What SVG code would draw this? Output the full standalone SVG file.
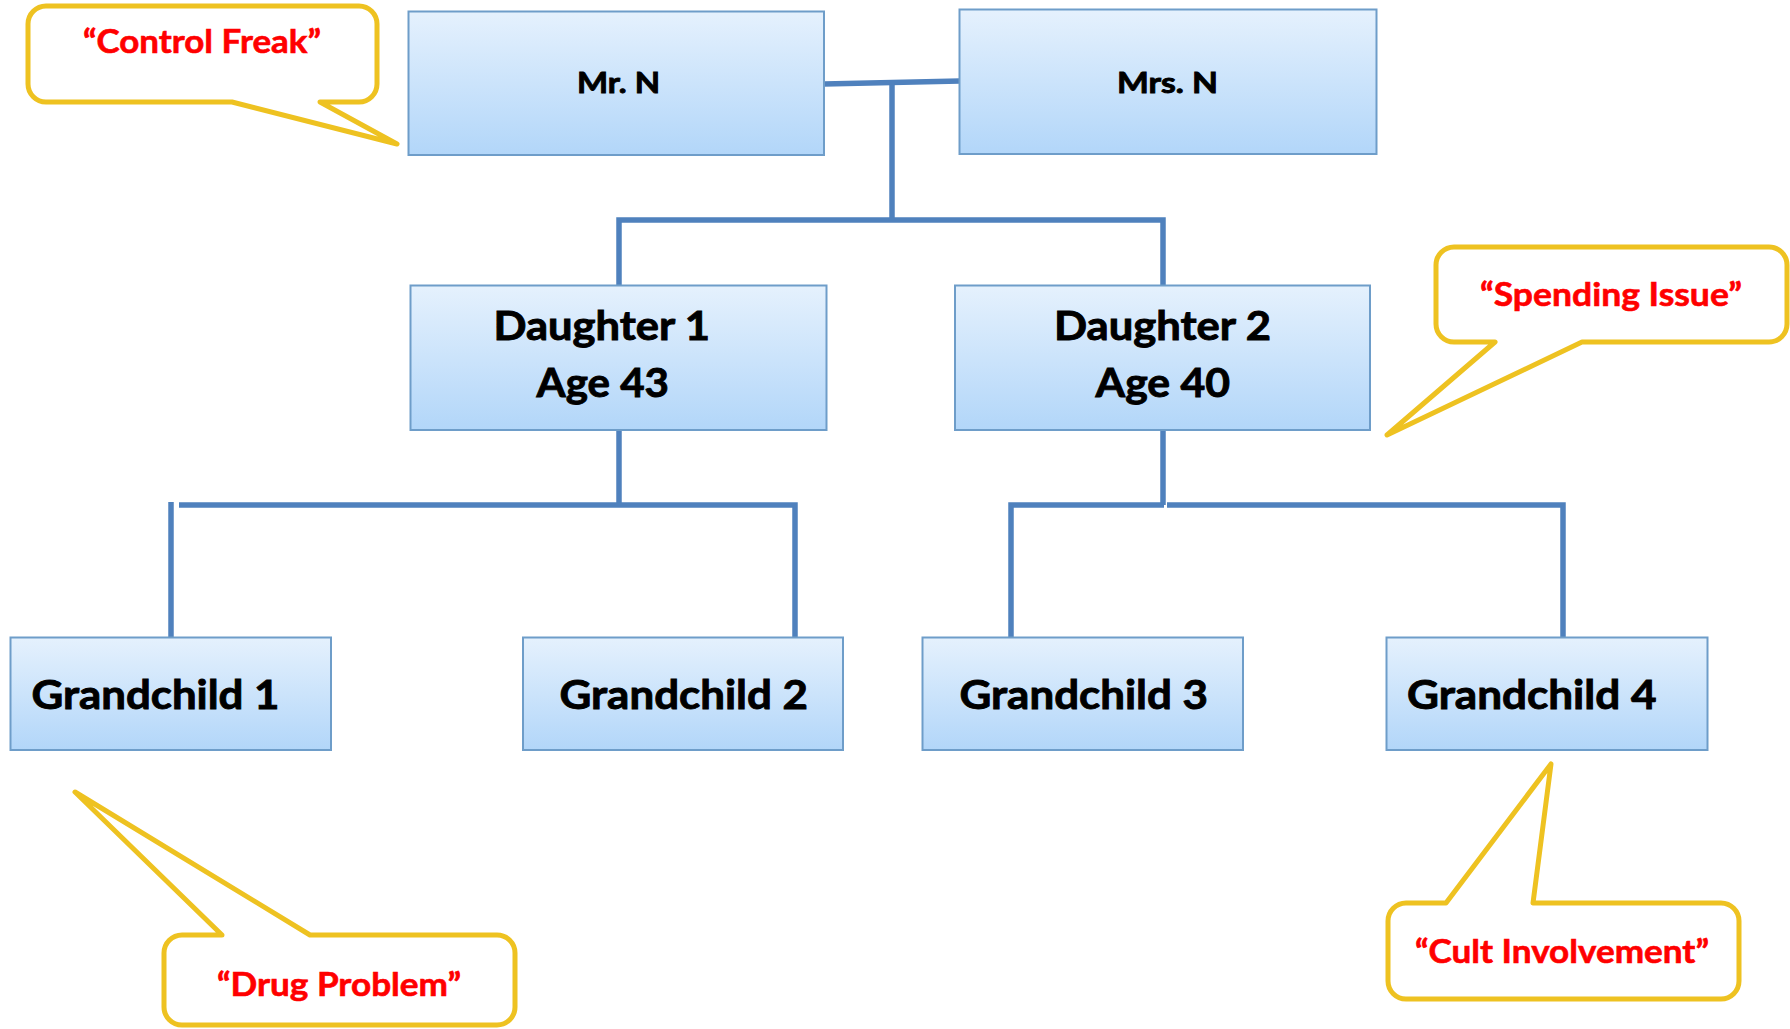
<svg xmlns="http://www.w3.org/2000/svg" width="1790" height="1029" viewBox="0 0 1790 1029">
  <defs>
    <linearGradient id="boxFill" x1="0" y1="0" x2="0" y2="1">
      <stop offset="0" stop-color="#E5F1FD"/>
      <stop offset="1" stop-color="#B2D6F9"/>
    </linearGradient>
    <style>
      .box { fill: url(#boxFill); stroke: #6E9DC9; stroke-width: 2; }
      .lbl { font-family: Lato, "Liberation Sans", sans-serif; font-weight: bold; fill: #000; stroke: #000; stroke-width: 0.9; }
      .s { font-size: 29px; }
      .m { font-size: 40px; }
      .conn { fill: none; stroke: #4F81BD; stroke-width: 5.5; stroke-linejoin: miter; stroke-linecap: butt; }
      .bubble { fill: #FFFFFF; stroke: #EEC221; stroke-width: 5; stroke-linejoin: round; }
      .note { font-family: Lato, "Liberation Sans", sans-serif; font-weight: bold; font-size: 32px; fill: #FF0000; stroke: #FF0000; stroke-width: 0.6; }
    </style>
  </defs>
  <rect width="1790" height="1029" fill="#FFFFFF"/>

  <!-- family tree connectors -->
  <g id="connectors">
    <line class="conn" x1="824" y1="84" x2="960" y2="81"/>
    <line class="conn" x1="892" y1="83" x2="892" y2="220"/>
    <polyline class="conn" points="619,286 619,220 1163,220 1163,286"/>
    <line class="conn" x1="619" y1="430" x2="619" y2="505"/>
    <line class="conn" x1="171" y1="502" x2="171" y2="638"/>
    <polyline class="conn" points="179,505 795,505 795,638"/>
    <line class="conn" x1="1163" y1="430" x2="1163" y2="505"/>
    <polyline class="conn" points="1011,638 1011,505 1164,505"/>
    <polyline class="conn" points="1167,505 1563,505 1563,638"/>
  </g>

  <!-- people -->
  <g id="mr-n">
    <rect class="box" x="408.5" y="11.5" width="415.5" height="143.5"/>
    <text class="lbl s" x="577" y="93" textLength="83" lengthAdjust="spacingAndGlyphs">Mr. N</text>
  </g>
  <g id="mrs-n">
    <rect class="box" x="959.5" y="9.5" width="417" height="144.5"/>
    <text class="lbl s" x="1117" y="93" textLength="101" lengthAdjust="spacingAndGlyphs">Mrs. N</text>
  </g>
  <g id="daughter-1">
    <rect class="box" x="410.5" y="285.5" width="416" height="144.5"/>
    <text class="lbl m" x="493.5" y="340" textLength="216.5" lengthAdjust="spacingAndGlyphs">Daughter 1</text>
    <text class="lbl m" x="536.5" y="397" textLength="132.5" lengthAdjust="spacingAndGlyphs">Age 43</text>
  </g>
  <g id="daughter-2">
    <rect class="box" x="955" y="285.5" width="415" height="144.5"/>
    <text class="lbl m" x="1054" y="340" textLength="217" lengthAdjust="spacingAndGlyphs">Daughter 2</text>
    <text class="lbl m" x="1095.5" y="397" textLength="134.5" lengthAdjust="spacingAndGlyphs">Age 40</text>
  </g>
  <g id="grandchild-1">
    <rect class="box" x="10.5" y="637.5" width="320.5" height="112.5"/>
    <text class="lbl m" x="31.5" y="709" textLength="248" lengthAdjust="spacingAndGlyphs">Grandchild 1</text>
  </g>
  <g id="grandchild-2">
    <rect class="box" x="523" y="637.5" width="320" height="112.5"/>
    <text class="lbl m" x="559.5" y="709" textLength="248.5" lengthAdjust="spacingAndGlyphs">Grandchild 2</text>
  </g>
  <g id="grandchild-3">
    <rect class="box" x="922.5" y="637.5" width="320.5" height="112.5"/>
    <text class="lbl m" x="959.5" y="709" textLength="248.5" lengthAdjust="spacingAndGlyphs">Grandchild 3</text>
  </g>
  <g id="grandchild-4">
    <rect class="box" x="1386.5" y="637.5" width="321" height="112.5"/>
    <text class="lbl m" x="1407" y="709" textLength="249.5" lengthAdjust="spacingAndGlyphs">Grandchild 4</text>
  </g>

  <!-- speech bubbles -->
  <g id="note-control-freak">
    <path class="bubble" d="M46,6 H359 A18,18 0 0 1 377,24 V84 A18,18 0 0 1 359,102 H320 L397,144 L232,102 H46 A18,18 0 0 1 28,84 V24 A18,18 0 0 1 46,6 Z"/>
    <text class="note" x="83" y="52.5" textLength="238" lengthAdjust="spacingAndGlyphs">“Control Freak”</text>
  </g>
  <g id="note-spending-issue">
    <path class="bubble" d="M1454,247 H1769 A18,18 0 0 1 1787,265 V324 A18,18 0 0 1 1769,342 H1582 L1387,435 L1495,342 H1454 A18,18 0 0 1 1436,324 V265 A18,18 0 0 1 1454,247 Z"/>
    <text class="note" x="1480" y="306" textLength="262" lengthAdjust="spacingAndGlyphs">“Spending Issue”</text>
  </g>
  <g id="note-drug-problem">
    <path class="bubble" d="M182,935 H222 L75,792 L310,935 H497 A18,18 0 0 1 515,953 V1007 A18,18 0 0 1 497,1025 H182 A18,18 0 0 1 164,1007 V953 A18,18 0 0 1 182,935 Z"/>
    <text class="note" x="217" y="996" textLength="244" lengthAdjust="spacingAndGlyphs">“Drug Problem”</text>
  </g>
  <g id="note-cult-involvement">
    <path class="bubble" d="M1406,903 H1446 L1551,764 L1533,903 H1721 A18,18 0 0 1 1739,921 V981 A18,18 0 0 1 1721,999 H1406 A18,18 0 0 1 1388,981 V921 A18,18 0 0 1 1406,903 Z"/>
    <text class="note" x="1415" y="963" textLength="294" lengthAdjust="spacingAndGlyphs">“Cult Involvement”</text>
  </g>
</svg>
